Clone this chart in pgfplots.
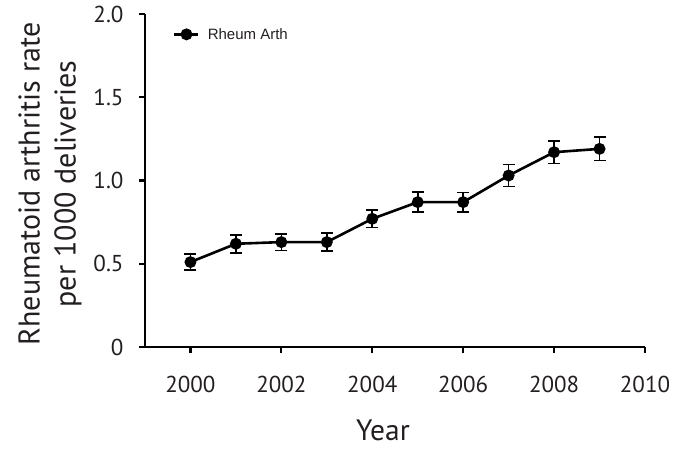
\documentclass[border=0pt]{standalone}
\usepackage{pgfplots}
\pgfplotsset{compat=1.18}
\usetikzlibrary{calc}
\usepackage{fontspec}
\setmainfont{PT Sans}
\newfontfamily\legendfont{Liberation Sans}
\definecolor{ink}{HTML}{231F20}

\begin{document}
\begin{tikzpicture}
\path[use as bounding box] (-145bp,-104bp) rectangle (535bp,347bp);
\begin{axis}[
  scale only axis,
  width=500bp, height=333bp,
  xmin=1999, xmax=2010,
  ymin=0, ymax=2,
  axis x line=bottom, axis y line=left,
  axis line style={-, line width=2.4bp},
  tick align=outside,
  major tick length=6bp,
  tick style={line width=2.2bp, black},
  xtick={2000,2002,...,2010},
  ytick={0,0.5,1,1.5,2},
  yticklabels={0,0.5,1.0,1.5,2.0},
  /pgf/number format/1000 sep={},
  /pgf/number format/assume math mode=true,
  tick label style={font=\fontsize{23bp}{26bp}\selectfont, text=ink},
  xticklabel style={anchor=base, yshift=-39bp},
  yticklabel style={anchor=east, xshift=-12bp},
  xlabel={Year},
  ylabel={Rheumatoid arthritis rate\\per 1000 deliveries},
  xlabel style={font=\fontsize{29.5bp}{35bp}\selectfont, text=ink,
    at={($(rel axis cs:0,0)+(238bp,-93bp)$)}, anchor=base},
  ylabel style={font=\fontsize{30bp}{36bp}\selectfont, text=ink, align=center,
    at={($(rel axis cs:0,0)+(-95bp,163bp)$)}, anchor=center},
  legend style={draw=none, fill=none, at={(rel axis cs:0.05,0.97)}, anchor=north west,
    font=\legendfont\fontsize{15bp}{17bp}\selectfont, text=ink},
  legend cell align=left,
  legend image code/.code={%
    \draw[mark repeat=2,mark phase=2] plot coordinates {(0bp,0bp)(12bp,0bp)(24bp,0bp)};
    \path (30bp,0bp);},
  clip=false,
]
\addplot[black, line width=2.6bp, mark=*, mark size=4.6bp,
  error bars/.cd, y dir=both, y explicit,
  error bar style={line width=1.6bp},
  error mark options={rotate=90, mark size=6bp, line width=1.6bp}]
  table[x=year, y=rate, y error=err] {
year rate err
2000 0.51 0.048
2001 0.62 0.054
2002 0.63 0.050
2003 0.63 0.055
2004 0.77 0.052
2005 0.87 0.060
2006 0.87 0.058
2007 1.03 0.065
2008 1.17 0.068
2009 1.19 0.070
};
\addlegendentry{Rheum Arth}
\end{axis}
\end{tikzpicture}
\end{document}
